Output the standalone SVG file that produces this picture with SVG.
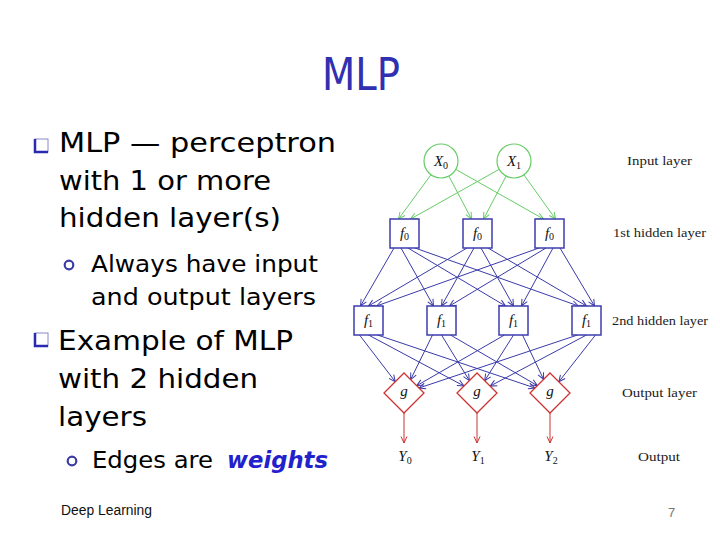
<svg xmlns="http://www.w3.org/2000/svg" width="720" height="540" viewBox="0 0 720 540">
<style>
.main{font-family:"DejaVu Sans",sans-serif;font-size:27px;fill:#000}
.sub{font-family:"DejaVu Sans",sans-serif;font-size:23px;fill:#000}
.lbl{font-family:"Liberation Serif",serif;font-size:13px;fill:#222}
.math{font-family:"Liberation Serif",serif;font-size:15px;fill:#111}
.it{font-style:italic}
.sb{font-size:10px}
.g{stroke:#66cc66;stroke-width:1;fill:none}
.b{stroke:#3a3aa8;stroke-width:1;fill:none}
.r{stroke:#cc3333;stroke-width:1;fill:none}
.circ{fill:#fff;stroke:#66cc66;stroke-width:1.2}
.box{fill:#fff;stroke:#3c3cb0;stroke-width:1.5}
.dia{fill:#fff;stroke:#cc3333;stroke-width:1.3}
.bul{fill:none;stroke:#3a3aa8;stroke-width:2.2}
</style>
<defs>
<marker id="ag" viewBox="0 0 8 8" refX="7.5" refY="4" markerWidth="8" markerHeight="8" markerUnits="userSpaceOnUse" orient="auto"><path d="M1,1 L7.5,4 L1,7" fill="none" stroke="#66cc66" stroke-width="1"/></marker>
<marker id="ab" viewBox="0 0 8 8" refX="7.5" refY="4" markerWidth="8" markerHeight="8" markerUnits="userSpaceOnUse" orient="auto"><path d="M1,1 L7.5,4 L1,7" fill="none" stroke="#3a3aa8" stroke-width="1"/></marker>
<marker id="ar" viewBox="0 0 8 8" refX="7.5" refY="4" markerWidth="8" markerHeight="8" markerUnits="userSpaceOnUse" orient="auto"><path d="M1,1 L7.5,4 L1,7" fill="none" stroke="#cc3333" stroke-width="1"/></marker>
</defs>
<rect width="720" height="540" fill="#fff"/>

<g id="title"><text x="322" y="90" font-family="DejaVu Sans,sans-serif" font-size="44" fill="#3030b0" textLength="78" lengthAdjust="spacingAndGlyphs">MLP</text></g>

<g id="bullets">
<rect x="35" y="139" width="13" height="13" fill="#fff" stroke="#8888c8" stroke-width="1"/>
<path d="M35,139 L35,152 L48,152" fill="none" stroke="#2a2ab0" stroke-width="2.5"/>
<text class="main" x="59" y="152" textLength="277" lengthAdjust="spacingAndGlyphs">MLP — perceptron</text>
<text class="main" x="59" y="190" textLength="212" lengthAdjust="spacingAndGlyphs">with 1 or more</text>
<text class="main" x="59" y="227" textLength="222" lengthAdjust="spacingAndGlyphs">hidden layer(s)</text>
<circle class="bul" cx="69" cy="265" r="4.3"/>
<text class="sub" x="91" y="272" textLength="227" lengthAdjust="spacingAndGlyphs">Always have input</text>
<text class="sub" x="91" y="305" textLength="225" lengthAdjust="spacingAndGlyphs">and output layers</text>
<rect x="35" y="333" width="13" height="13" fill="#fff" stroke="#8888c8" stroke-width="1"/>
<path d="M35,333 L35,346 L48,346" fill="none" stroke="#2a2ab0" stroke-width="2.5"/>
<text class="main" x="58" y="350" textLength="235" lengthAdjust="spacingAndGlyphs">Example of MLP</text>
<text class="main" x="58" y="388" textLength="200" lengthAdjust="spacingAndGlyphs">with 2 hidden</text>
<text class="main" x="58" y="426" textLength="89" lengthAdjust="spacingAndGlyphs">layers</text>
<circle class="bul" cx="72" cy="461" r="4.3"/>
<text class="sub" x="92" y="468" textLength="121" lengthAdjust="spacingAndGlyphs">Edges are</text>
<text class="sub" x="227" y="468" font-weight="bold" font-style="italic" fill="#2222cc" style="fill:#2222cc" textLength="101" lengthAdjust="spacingAndGlyphs">weights</text>
</g>

<g id="connectors">
<line class="g" x1="431" y1="174.7" x2="398.5" y2="219" marker-end="url(#ag)"/>
<line class="g" x1="448.9" y1="176.1" x2="471.5" y2="219" marker-end="url(#ag)"/>
<line class="g" x1="455.8" y1="169.4" x2="543.5" y2="219" marker-end="url(#ag)"/>
<line class="g" x1="499.2" y1="169.3" x2="410.5" y2="219" marker-end="url(#ag)"/>
<line class="g" x1="506.1" y1="176.1" x2="483.5" y2="219" marker-end="url(#ag)"/>
<line class="g" x1="523.9" y1="174.8" x2="555.5" y2="219" marker-end="url(#ag)"/>

<line class="b" x1="394" y1="248" x2="360.5" y2="306" marker-end="url(#ab)"/>
<line class="b" x1="401" y1="248" x2="433.5" y2="306" marker-end="url(#ab)"/>
<line class="b" x1="408" y1="248" x2="505.5" y2="306" marker-end="url(#ab)"/>
<line class="b" x1="415" y1="248" x2="578.5" y2="306" marker-end="url(#ab)"/>
<line class="b" x1="467" y1="248" x2="368.5" y2="306" marker-end="url(#ab)"/>
<line class="b" x1="474" y1="248" x2="441.5" y2="306" marker-end="url(#ab)"/>
<line class="b" x1="481" y1="248" x2="513.5" y2="306" marker-end="url(#ab)"/>
<line class="b" x1="488" y1="248" x2="586.5" y2="306" marker-end="url(#ab)"/>
<line class="b" x1="539" y1="248" x2="376.5" y2="306" marker-end="url(#ab)"/>
<line class="b" x1="546" y1="248" x2="449.5" y2="306" marker-end="url(#ab)"/>
<line class="b" x1="553" y1="248" x2="521.5" y2="306" marker-end="url(#ab)"/>
<line class="b" x1="560" y1="248" x2="594.5" y2="306" marker-end="url(#ab)"/>

<line class="b" x1="359.5" y1="335" x2="395.3" y2="381.7" marker-end="url(#ab)"/>
<line class="b" x1="368.5" y1="335" x2="464" y2="386" marker-end="url(#ab)"/>
<line class="b" x1="377.5" y1="335" x2="535" y2="388" marker-end="url(#ab)"/>
<line class="b" x1="432.5" y1="335" x2="410.6" y2="379.6" marker-end="url(#ab)"/>
<line class="b" x1="441.5" y1="335" x2="469.4" y2="380.6" marker-end="url(#ab)"/>
<line class="b" x1="450.5" y1="335" x2="537.4" y2="385.6" marker-end="url(#ab)"/>
<line class="b" x1="504.5" y1="335" x2="416.7" y2="385.7" marker-end="url(#ab)"/>
<line class="b" x1="513.5" y1="335" x2="484.7" y2="380.7" marker-end="url(#ab)"/>
<line class="b" x1="522.5" y1="335" x2="543.6" y2="379.4" marker-end="url(#ab)"/>
<line class="b" x1="577.5" y1="335" x2="419" y2="388" marker-end="url(#ab)"/>
<line class="b" x1="586.5" y1="335" x2="490.1" y2="386.1" marker-end="url(#ab)"/>
<line class="b" x1="595.5" y1="335" x2="558.8" y2="381.8" marker-end="url(#ab)"/>

<line class="r" x1="404" y1="413" x2="404" y2="443" marker-end="url(#ar)"/>
<line class="r" x1="477" y1="413" x2="477" y2="443" marker-end="url(#ar)"/>
<line class="r" x1="550" y1="413" x2="550" y2="443" marker-end="url(#ar)"/>
</g>

<g id="x0"><circle class="circ" cx="441" cy="161" r="17"/><text class="math" x="441" y="166" text-anchor="middle"><tspan class="it">X</tspan><tspan class="sb" dy="3">0</tspan></text></g>
<g id="x1"><circle class="circ" cx="514" cy="161" r="17"/><text class="math" x="514" y="166" text-anchor="middle"><tspan class="it">X</tspan><tspan class="sb" dy="3">1</tspan></text></g>

<g id="f0a"><rect class="box" x="390" y="219" width="29" height="29"/><text class="math" x="404.5" y="238" text-anchor="middle"><tspan class="it">f</tspan><tspan class="sb" dy="2">0</tspan></text></g>
<g id="f0b"><rect class="box" x="463" y="219" width="29" height="29"/><text class="math" x="477.5" y="238" text-anchor="middle"><tspan class="it">f</tspan><tspan class="sb" dy="2">0</tspan></text></g>
<g id="f0c"><rect class="box" x="535" y="219" width="29" height="29"/><text class="math" x="549.5" y="238" text-anchor="middle"><tspan class="it">f</tspan><tspan class="sb" dy="2">0</tspan></text></g>

<g id="f1a"><rect class="box" x="354" y="306" width="29" height="29"/><text class="math" x="368.5" y="325" text-anchor="middle"><tspan class="it">f</tspan><tspan class="sb" dy="2">1</tspan></text></g>
<g id="f1b"><rect class="box" x="427" y="306" width="29" height="29"/><text class="math" x="441.5" y="325" text-anchor="middle"><tspan class="it">f</tspan><tspan class="sb" dy="2">1</tspan></text></g>
<g id="f1c"><rect class="box" x="499" y="306" width="29" height="29"/><text class="math" x="513.5" y="325" text-anchor="middle"><tspan class="it">f</tspan><tspan class="sb" dy="2">1</tspan></text></g>
<g id="f1d"><rect class="box" x="572" y="306" width="29" height="29"/><text class="math" x="586.5" y="325" text-anchor="middle"><tspan class="it">f</tspan><tspan class="sb" dy="2">1</tspan></text></g>

<g id="ga"><path class="dia" d="M404,373 L424,393 L404,413 L384,393 Z"/><text class="math it" x="404" y="396" text-anchor="middle">g</text></g>
<g id="gb"><path class="dia" d="M477,373 L497,393 L477,413 L457,393 Z"/><text class="math it" x="477" y="396" text-anchor="middle">g</text></g>
<g id="gc"><path class="dia" d="M550,373 L570,393 L550,413 L530,393 Z"/><text class="math it" x="550" y="396" text-anchor="middle">g</text></g>

<g id="outputs">
<text class="math" x="405" y="461" text-anchor="middle"><tspan class="it">Y</tspan><tspan class="sb" dy="3">0</tspan></text>
<text class="math" x="478" y="461" text-anchor="middle"><tspan class="it">Y</tspan><tspan class="sb" dy="3">1</tspan></text>
<text class="math" x="551" y="461" text-anchor="middle"><tspan class="it">Y</tspan><tspan class="sb" dy="3">2</tspan></text>
</g>

<g id="layer-labels">
<text class="lbl" x="627" y="165" textLength="65" lengthAdjust="spacingAndGlyphs">Input layer</text>
<text class="lbl" x="613" y="237" textLength="93" lengthAdjust="spacingAndGlyphs">1st hidden layer</text>
<text class="lbl" x="612" y="325" textLength="96" lengthAdjust="spacingAndGlyphs">2nd hidden layer</text>
<text class="lbl" x="622" y="397" textLength="75" lengthAdjust="spacingAndGlyphs">Output layer</text>
<text class="lbl" x="638" y="461" textLength="42" lengthAdjust="spacingAndGlyphs">Output</text>
</g>

<g id="footer">
<text x="61" y="515" font-family="Liberation Sans,sans-serif" font-size="14" fill="#111" textLength="91" lengthAdjust="spacingAndGlyphs">Deep Learning</text>
<text x="668" y="517" font-family="Liberation Sans,sans-serif" font-size="13" fill="#777">7</text>
</g>
</svg>
